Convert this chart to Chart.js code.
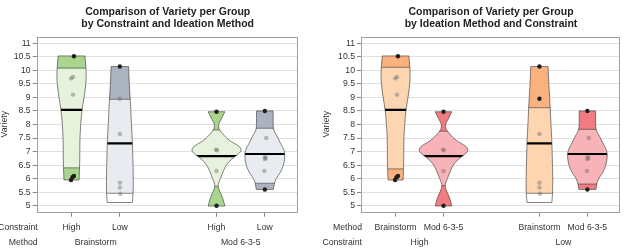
<!DOCTYPE html>
<html>
<head>
<meta charset="utf-8">
<script src="https://cdn.jsdelivr.net/npm/chart.js@4.4.1/dist/chart.umd.min.js"></script>
<style>
    body { margin: 0; background: #fff; }
    #wrap { position: relative; width: 627px; height: 250px; }
    canvas { position: absolute; top: 0; }
</style>
</head>
<body>
<div id="wrap">
    <canvas id="chart-left" width="313" height="250" style="left:0"></canvas>
    <canvas id="chart-right" width="305" height="250" style="left:322px"></canvas>
</div>
<script>
/**
 * Pirate plots — Variety per group, two orderings
 */
const catPos = [1, 2, 4, 5];
const yTicks = [5, 5.5, 6, 6.5, 7, 7.5, 8, 8.5, 9, 9.5, 10, 10.5, 11];

// Brainstorm / High
const bhVals = [10.52, 9.75, 9.7, 9.1, 6.1, 6.05, 5.95];
const bhJit = [0.05, 0.03, -0.01, 0.03, 0.05, 0.02, -0.01];
const bhMean = 8.54;
const bhLevels = [5.95, 6.4, 7.0, 7.5, 8.0, 8.54, 9.1, 9.65, 10.1, 10.53];
const bhHalf = [0.156, 0.168, 0.172, 0.173, 0.19, 0.215, 0.27, 0.306, 0.3, 0.277];

// Brainstorm / Low
const blVals = [10.14, 8.95, 7.65, 5.85, 5.67, 5.44];
const blJit = [0, 0, 0, 0, 0, 0.01];
const blMean = 7.3;
const blLevels = [5.12, 5.46, 6.0, 6.44, 7.0, 7.43, 8.0, 8.6, 8.93, 9.52, 10.14];
const blHalf = [0.26, 0.277, 0.278, 0.273, 0.265, 0.258, 0.24, 0.225, 0.215, 0.194, 0.181];

// Mod 6-3-5 / High
const mhVals = [8.47, 7.07, 7.05, 6.28, 5.0];
const mhJit = [0, -0.01, 0.01, 0, 0];
const mhMean = 6.83;
const mhLevels = [4.99, 5.15, 5.33, 5.55, 5.72, 5.85, 6.0, 6.2, 6.4, 6.57, 6.7, 6.84, 6.95, 7.06, 7.2, 7.31, 7.42, 7.55, 7.67, 7.85, 8.04, 8.2, 8.35, 8.47];
const mhHalf = [0.173, 0.15, 0.12, 0.06, 0.03, 0.045, 0.08, 0.125, 0.17, 0.23, 0.3, 0.4, 0.48, 0.52, 0.47, 0.36, 0.26, 0.18, 0.12, 0.04, 0.045, 0.1, 0.14, 0.173];

// Mod 6-3-5 / Low
const mlVals = [8.5, 7.5, 6.8, 6.76, 6.72, 6.28, 5.6];
const mlJit = [0, 0.03, 0, 0.02, 0, -0.01, 0];
const mlMean = 6.91;
const mlLevels = [5.6, 5.83, 5.95, 6.07, 6.25, 6.44, 6.65, 6.87, 7.05, 7.18, 7.35, 7.55, 7.72, 7.86, 8.2, 8.5];
const mlHalf = [0.177, 0.198, 0.22, 0.26, 0.33, 0.375, 0.405, 0.417, 0.4, 0.365, 0.31, 0.26, 0.2, 0.173, 0.171, 0.171];

// band cuts (0 = none, 1 = light band, 2 = dark band)
const bhKinds = [2, 1, 2];
const blKinds = [0, 1, 2];
const mhKinds = [2, 1, 2];
const mlKinds = [2, 1, 2];
const leftBhCuts = [5.95, 6.4, 10.08, 10.53];
const leftBlCuts = [5.12, 5.46, 8.93, 10.14];
const leftMhCuts = [4.99, 5.72, 7.8, 8.47];
const leftMlCuts = [5.6, 5.83, 7.86, 8.5];
const rightBhCuts = [5.95, 6.36, 10.11, 10.53];
const rightBlCuts = [5.12, 5.46, 8.62, 10.14];
const rightMhCuts = [4.99, 5.75, 7.75, 8.47];
const rightMlCuts = [5.6, 5.8, 7.82, 8.5];

const leftTitle = ['Comparison of Variety per Group', 'by Constraint and Ideation Method'];
const rightTitle = ['Comparison of Variety per Group', 'by Ideation Method and Constraint'];
const leftRow1 = ['High', 'Low', 'High', 'Low'];
const leftRow2 = ['Brainstorm', 'Mod 6-3-5'];
const leftHeads = ['Constraint', 'Method'];
const rightRow1 = ['Brainstorm', 'Mod 6-3-5', 'Brainstorm', 'Mod 6-3-5'];
const rightRow2 = ['High', 'Low'];
const rightHeads = ['Method', 'Constraint'];

const FONT = '"Liberation Sans", Arial, sans-serif';
const GREEN = { dark: '#a9d58f', light: '#e6f2db' };
const GREY = { dark: '#abb3c1', light: '#e8ebf0' };
const ORANGE = { dark: '#f9b17e', light: '#fdd5b1' };
const RED = { dark: '#f07c82', light: '#f7b3b8' };

function bean(pos, vals, jit, mean, levels, half, cuts, kinds, col) {
    return { pos, vals, jit, mean, levels, half, cuts, kinds, col };
}

// smooth curve through a list of pixel points (first/last kept exact)
function traceSmooth(path, pts, first) {
    if (first) path.moveTo(pts[0][0], pts[0][1]); else path.lineTo(pts[0][0], pts[0][1]);
    for (let i = 1; i < pts.length - 1; i++) {
        const mx = (pts[i][0] + pts[i + 1][0]) / 2, my = (pts[i][1] + pts[i + 1][1]) / 2;
        path.quadraticCurveTo(pts[i][0], pts[i][1], mx, my);
    }
    const l = pts[pts.length - 1];
    path.lineTo(l[0], l[1]);
}

function beanPlugin(beans) {
    return {
        id: 'beans',
        beforeDatasetsDraw(chart) {
            const { ctx, chartArea: a, scales: { x, y } } = chart;
            ctx.save();
            ctx.beginPath();
            ctx.rect(a.left, a.top, a.width, a.height);
            ctx.clip();
            beans.forEach(b => {
                const right = b.levels.map((v, i) => [x.getPixelForValue(b.pos + b.half[i]), y.getPixelForValue(v)]);
                const left = b.levels.map((v, i) => [x.getPixelForValue(b.pos - b.half[i]), y.getPixelForValue(v)]).reverse();
                const path = new Path2D();
                traceSmooth(path, right, true);
                traceSmooth(path, left, false);
                path.closePath();

                const xl = x.getPixelForValue(b.pos - 0.7), xr = x.getPixelForValue(b.pos + 0.7);
                ctx.save();
                ctx.clip(path);
                ctx.fillStyle = '#fff';
                ctx.fill(path);
                b.kinds.forEach((k, i) => {
                    if (!k) return;
                    const y0 = y.getPixelForValue(b.cuts[i]), y1 = y.getPixelForValue(b.cuts[i + 1]);
                    ctx.fillStyle = k === 2 ? b.col.dark : b.col.light;
                    ctx.fillRect(xl, y1, xr - xl, y0 - y1);
                });
                // band edges
                ctx.strokeStyle = 'rgba(50,50,50,0.75)';
                ctx.lineWidth = 0.8;
                b.cuts.slice(1, -1).forEach(c => {
                    const py = y.getPixelForValue(c);
                    ctx.beginPath(); ctx.moveTo(xl, py); ctx.lineTo(xr, py); ctx.stroke();
                });
                // mean line
                const my = y.getPixelForValue(b.mean);
                ctx.strokeStyle = '#000';
                ctx.lineWidth = 2.2;
                ctx.beginPath(); ctx.moveTo(xl, my); ctx.lineTo(xr, my); ctx.stroke();
                ctx.restore();

                ctx.strokeStyle = 'rgba(50,50,50,0.75)';
                ctx.lineWidth = 0.8;
                ctx.stroke(path);
            });
            ctx.restore();
        }
    };
}

function framePlugin(title, row2, heads) {
    return {
        id: 'frame',
        afterDraw(chart) {
            const { ctx, chartArea: a, scales: { x } } = chart;
            ctx.save();
            ctx.strokeStyle = '#a0a0a0';
            ctx.lineWidth = 1;
            ctx.strokeRect(Math.round(a.left) - 0.5, Math.round(a.top) + 0.5, Math.round(a.width), Math.round(a.height));

            ctx.fillStyle = '#222';
            ctx.font = `bold 10.5px ${FONT}`;
            ctx.textAlign = 'center';
            ctx.textBaseline = 'alphabetic';
            const cx = (a.left + a.right) / 2;
            ctx.fillText(title[0], cx, 14.7);
            ctx.fillText(title[1], cx, 27.3);

            ctx.fillStyle = '#333';
            ctx.font = `8.7px ${FONT}`;
            ctx.textBaseline = 'middle';
            ctx.textAlign = 'right';
            ctx.fillText(heads[0], a.left, 228);
            ctx.fillText(heads[1], a.left, 243);
            ctx.textAlign = 'center';
            row2.forEach((g, i) => {
                const gx = (x.getPixelForValue(catPos[2 * i]) + x.getPixelForValue(catPos[2 * i + 1])) / 2;
                ctx.fillText(g, gx, 243);
            });
            ctx.restore();
        }
    };
}

function makeChart(id, beans, title, row1, row2, heads, yw, pr) {
    const datasets = beans.map(b => ({
        type: 'scatter',
        data: b.vals.map((v, i) => ({ x: b.pos + b.jit[i], y: v })),
        pointRadius: 2.2,
        pointBorderWidth: 0,
        pointBackgroundColor: b.vals.map(v => {
            const seg = b.cuts.findIndex((c, i) => i < b.cuts.length - 1 && v >= c - 0.02 && v <= b.cuts[i + 1] + 0.02);
            return b.kinds[seg] === 2 ? '#1e1e1e' : 'rgba(110,110,110,0.45)';
        })
    }));

    return new Chart(document.getElementById(id), {
        type: 'scatter',
        data: { datasets },
        options: {
            responsive: false,
            animation: false,
            devicePixelRatio: 1,
            layout: { padding: { top: 36.7, right: pr, left: 0, bottom: 0 } },
            plugins: { legend: { display: false }, tooltip: { enabled: false } },
            scales: {
                x: {
                    type: 'linear', min: 0.3, max: 5.68,
                    afterBuildTicks: s => { s.ticks = catPos.map(v => ({ value: v })); },
                    afterFit: s => { s.height = 38.3; },
                    border: { display: false },
                    grid: { drawOnChartArea: false, drawTicks: true, tickLength: 5, tickColor: '#888' },
                    ticks: {
                        autoSkip: false, maxRotation: 0, padding: 6,
                        color: '#333', font: { family: FONT, size: 8.7 },
                        callback: (v, i) => row1[i]
                    }
                },
                y: {
                    min: 4.78, max: 11.24,
                    afterBuildTicks: s => { s.ticks = yTicks.map(v => ({ value: v })); },
                    afterFit: s => { s.width = yw; },
                    border: { display: false },
                    grid: { color: '#e0e0e0', tickColor: '#888', tickLength: 5 },
                    ticks: { padding: 2, color: '#333', font: { family: FONT, size: 8.7 }, callback: v => String(v) },
                    title: { display: true, text: 'Variety', color: '#333', font: { family: FONT, size: 8.7 }, padding: { top: -1, bottom: 0 } }
                }
            }
        },
        plugins: [beanPlugin(beans), framePlugin(title, row2, heads)]
    });
}

makeChart('chart-left', [
    bean(catPos[0], bhVals, bhJit, bhMean, bhLevels, bhHalf, leftBhCuts, bhKinds, GREEN),
    bean(catPos[1], blVals, blJit, blMean, blLevels, blHalf, leftBlCuts, blKinds, GREY),
    bean(catPos[2], mhVals, mhJit, mhMean, mhLevels, mhHalf, leftMhCuts, mhKinds, GREEN),
    bean(catPos[3], mlVals, mlJit, mlMean, mlLevels, mlHalf, leftMlCuts, mlKinds, GREY)
], leftTitle, leftRow1, leftRow2, leftHeads, 37.7, 15.3);

makeChart('chart-right', [
    bean(catPos[0], bhVals, bhJit, bhMean, bhLevels, bhHalf, rightBhCuts, bhKinds, ORANGE),
    bean(catPos[1], mhVals, mhJit, mhMean, mhLevels, mhHalf, rightMhCuts, mhKinds, RED),
    bean(catPos[2], blVals, blJit, blMean, blLevels, blHalf, rightBlCuts, blKinds, ORANGE),
    bean(catPos[3], mlVals, mlJit, mlMean, mlLevels, mlHalf, rightMlCuts, mlKinds, RED)
], rightTitle, rightRow1, rightRow2, rightHeads, 40, 7);
</script>
</body>
</html>
